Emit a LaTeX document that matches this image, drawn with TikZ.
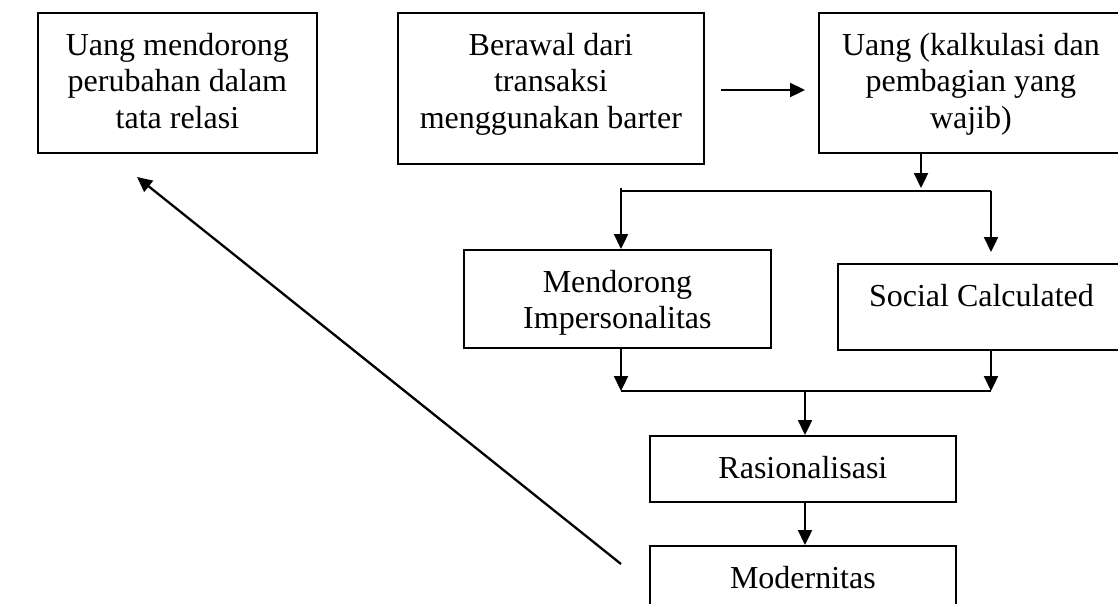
\documentclass[tikz,border=0pt]{standalone}
\usepackage{fontspec}
\setmainfont{Liberation Serif}
\usetikzlibrary{arrows.meta}

\tikzset{
  box/.style={draw, line width=1.8pt, inner sep=0pt, anchor=north west},
  txt/.style={anchor=north, align=center, inner sep=0pt, yshift=-21pt,
              font=\fontsize{32pt}{36.5pt}\selectfont},
  ln/.style={line width=2.3pt},
  arr/.style={line width=2.3pt, -{Triangle[length=15pt,width=14pt]}}
}

\begin{document}
\begin{tikzpicture}[x=1pt, y=-1pt]
  \useasboundingbox (0,0) rectangle (1118,603);
  \clip (0,0) rectangle (1118,603);

  % boxes
  \node[box, minimum width=279pt, minimum height=140pt] (A) at (37,12) {};
  \node[box, minimum width=306pt, minimum height=151pt] (B) at (397,12) {};
  \node[box, minimum width=304pt, minimum height=140pt] (C) at (818,12) {};
  \node[box, minimum width=307pt, minimum height=98pt]  (D) at (463,249) {};
  \node[box, minimum width=287pt, minimum height=86pt]  (E) at (837,263) {};
  \node[box, minimum width=306pt, minimum height=66pt]  (F) at (649,435) {};
  \node[box, minimum width=306pt, minimum height=70pt]  (G) at (649,545) {};

  % box texts
  \node[txt] (At) at (A.north) {Uang mendorong\\perubahan dalam\\tata relasi};
  \node[txt] (Bt) at (B.north) {Berawal dari\\transaksi\\menggunakan barter};
  \node[txt] (Ct) at (C.north) {Uang (kalkulasi dan\\pembagian yang\\wajib)};
  \node[txt] (Dt) at (D.north) {Mendorong\\Impersonalitas};
  \node[txt] (Et) at (E.north) {Social Calculated};
  \node[txt] (Ft) at (F.north) {Rasionalisasi};
  \node[txt] (Gt) at (G.north) {Modernitas};

  % connector points
  \coordinate (bc0) at (721,90);
  \coordinate (bc1) at (805,90);
  \coordinate (x1)  at (921,191);
  \coordinate (j1L) at (621,191);
  \coordinate (j1R) at (991,191);
  \coordinate (j2L) at (621,391);
  \coordinate (j2R) at (991,391);
  \coordinate (j2M) at (805,391);
  \coordinate (d0)  at (621,564);
  \coordinate (d1)  at (137,177);

  % barter to money
  \draw[arr] (bc0) -- (bc1);

  % money splits into two effects
  \draw[arr] (C.south -| x1) -- ([yshift=3pt]x1);
  \draw[ln] ([yshift=3pt]j1L) -- (j1L) -- (j1R);
  \draw[arr] (j1L) -- (D.north -| j1L);
  \draw[arr] (j1R) -- ([yshift=11pt]E.north -| j1R);

  % both effects merge into rationalisation
  \draw[arr] (D.south -| j2L) -- (j2L);
  \draw[arr] (E.south -| j2R) -- (j2R);
  \draw[ln] (j2L) -- (j2R);
  \draw[arr] (j2M) -- (F.north -| j2M);
  \draw[arr] (F.south -| j2M) -- (G.north -| j2M);

  % modernity feeds back into social relations
  \draw[arr] (d0) -- (d1);
\end{tikzpicture}
\end{document}
